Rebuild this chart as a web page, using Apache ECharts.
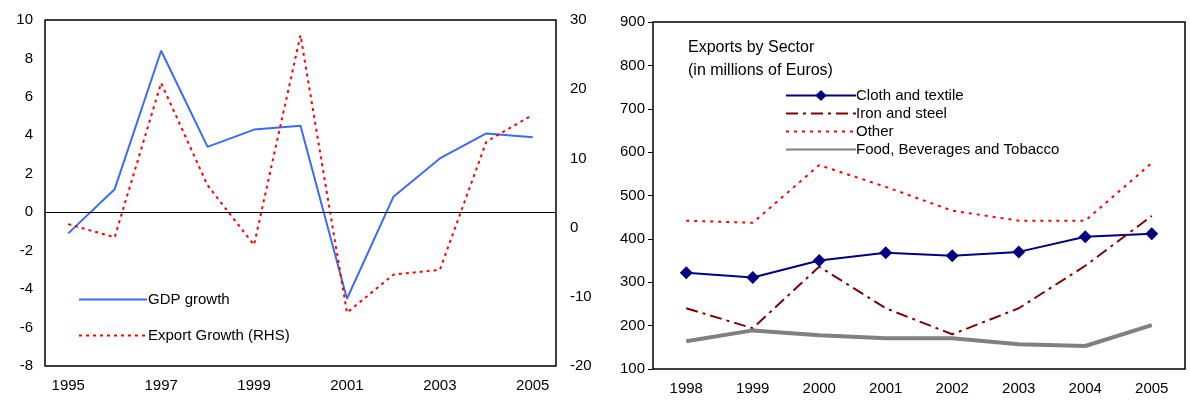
<!DOCTYPE html>
<html><head><meta charset="utf-8">
<script src="https://cdn.jsdelivr.net/npm/echarts@6/dist/echarts.min.js"></script>
<style>html,body{margin:0;background:#fff}#container{width:1190px;height:404px}</style>
</head><body><div id="container"></div>
<script>
var years1 = ['1995','1996','1997','1998','1999','2000','2001','2002','2003','2004','2005'];
var gdpGrowth = [-1.1, 1.2, 8.4, 3.4, 4.3, 4.5, -4.5, 0.8, 2.8, 4.1, 3.9];
var exportGrowth = [0.5, -1.4, 20.9, 6.1, -2.5, 27.8, -12.3, -6.8, -6.1, 12.4, 16.3];

var years2 = ['1998','1999','2000','2001','2002','2003','2004','2005'];
var cloth = [322, 311, 350, 368, 361, 370, 405, 412];
var iron = [240, 194, 336, 240, 180, 240, 338, 453];
var other = [442, 437, 570, 520, 465, 442, 442, 575];
var food = [164, 189, 178, 171, 171, 157, 153, 201];

var txt = { color: '#000', fontFamily: 'Arial, Liberation Sans', fontSize: 15 };
var box = { show: true, borderColor: '#000', borderWidth: 1.5 };
var noMark = { opacity: 0 };

window.onload = function() {
var myChart = echarts.init(document.getElementById('container'));
var option = {
  animation: false,
  textStyle: txt,
  grid: [
    Object.assign({ left: 45, right: 634, top: 20, bottom: 38 }, box),
    Object.assign({ left: 653, right: 5, top: 22, bottom: 35 }, box)
  ],
  legend: [
    { left: 73, top: 287, orient: 'vertical', itemGap: 21, itemWidth: 68, itemHeight: 14,
      data: [{ name: 'GDP growth', itemStyle: noMark }, { name: 'Export Growth (RHS)', itemStyle: noMark }],
      textStyle: Object.assign({}, txt, { padding: [0, 0, 0, -4] }) },
    { left: 780, top: 83, orient: 'vertical', itemGap: 3, itemWidth: 70, itemHeight: 14,
      data: ['Cloth and textile', { name: 'Iron and steel', itemStyle: noMark },
        { name: 'Other', itemStyle: noMark }, { name: 'Food, Beverages and Tobacco', itemStyle: noMark }],
      textStyle: Object.assign({}, txt, { padding: [0, 0, 0, -5] }) }
  ],
  title: { text: 'Exports by Sector\n(in millions of Euros)', left: 683, top: 31,
    textStyle: { color: '#000', fontFamily: 'Arial, Liberation Sans', fontSize: 16, fontWeight: 'normal', lineHeight: 23 } },
  xAxis: [
    { gridIndex: 0, type: 'category', data: years1, axisTick: { show: false },
      axisLine: { show: false }, axisLabel: Object.assign({ interval: 1, margin: 12 }, txt) },
    { gridIndex: 1, type: 'category', data: years2, axisTick: { show: false },
      axisLine: { show: false }, axisLabel: Object.assign({ margin: 12 }, txt) }
  ],
  yAxis: [
    { gridIndex: 0, min: -8, max: 10, interval: 2, splitLine: { show: false },
      axisLine: { show: false }, axisTick: { show: false }, axisLabel: Object.assign({ margin: 12 }, txt) },
    { gridIndex: 0, position: 'right', min: -20, max: 30, interval: 10, splitLine: { show: false },
      axisLine: { show: false }, axisTick: { show: false }, axisLabel: Object.assign({ margin: 14 }, txt) },
    { gridIndex: 1, min: 100, max: 900, interval: 100, splitLine: { show: false },
      axisLine: { show: false }, axisTick: { show: true, inside: false, length: 5, lineStyle: { color: '#000' } },
      axisLabel: Object.assign({ margin: 8 }, txt) }
  ],
  series: [
    { name: 'GDP growth', type: 'line', xAxisIndex: 0, yAxisIndex: 0, data: gdpGrowth,
      symbol: 'none', lineStyle: { color: '#3a6cf4', width: 2 }, itemStyle: { color: '#3a6cf4' },
      markLine: { silent: true, symbol: 'none', label: { show: false },
        lineStyle: { color: '#000', type: 'solid', width: 1 }, data: [{ yAxis: 0 }] } },
    { name: 'Export Growth (RHS)', type: 'line', xAxisIndex: 0, yAxisIndex: 1, data: exportGrowth,
      symbol: 'none', lineStyle: { color: '#ff0000', width: 2, type: [3, 4] }, itemStyle: { color: '#ff0000' } },
    { name: 'Cloth and textile', type: 'line', xAxisIndex: 1, yAxisIndex: 2, data: cloth,
      symbol: 'diamond', symbolSize: 13, lineStyle: { color: '#000080', width: 2 }, itemStyle: { color: '#000080' } },
    { name: 'Iron and steel', type: 'line', xAxisIndex: 1, yAxisIndex: 2, data: iron,
      symbol: 'none', lineStyle: { color: '#800000', width: 2, type: [12, 5, 3, 5] }, itemStyle: { color: '#800000' } },
    { name: 'Other', type: 'line', xAxisIndex: 1, yAxisIndex: 2, data: other,
      symbol: 'none', lineStyle: { color: '#ff0000', width: 2, type: [3, 5] }, itemStyle: { color: '#ff0000' } },
    { name: 'Food, Beverages and Tobacco', type: 'line', xAxisIndex: 1, yAxisIndex: 2, data: food,
      symbol: 'none', lineStyle: { color: '#808080', width: 4 }, itemStyle: { color: '#808080' } }
  ]
};
option && myChart.setOption(option);
};
</script></body></html>
